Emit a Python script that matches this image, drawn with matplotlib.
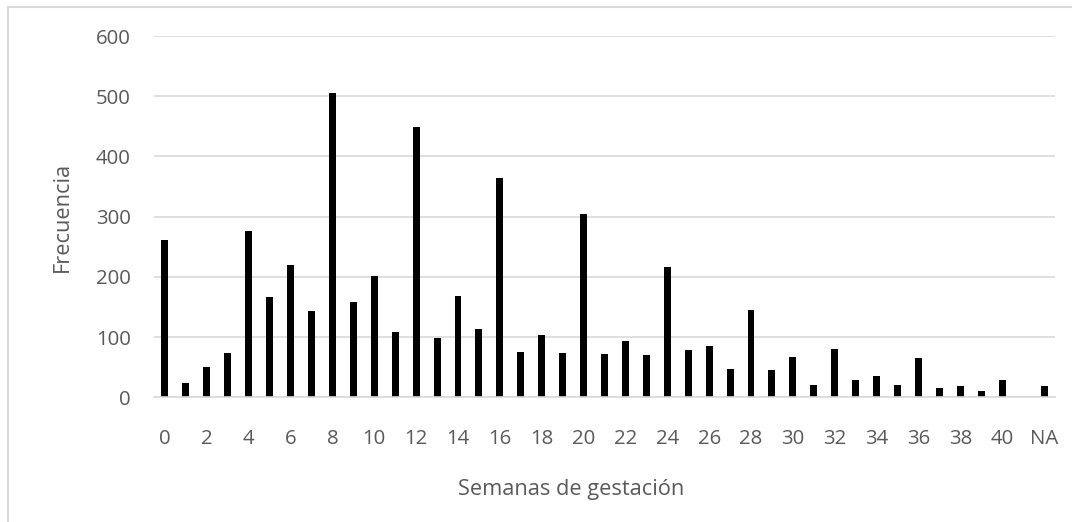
import matplotlib.pyplot as plt
from matplotlib.lines import Line2D

# Semanas de gestacion (0..41, NA) y frecuencia
semanas = [str(i) for i in range(42)] + ['NA']
frecuencia = [261, 23, 50, 74, 276, 167, 220, 143, 505, 158,
              201, 108, 449, 98, 168, 114, 364, 76, 103, 74,
              304, 72, 93, 70, 217, 79, 85, 47, 145, 45,
              67, 21, 80, 28, 35, 20, 65, 15, 19, 11,
              29, 0, 19]
tick_labels = [s if (i % 2 == 0) else '' for i, s in enumerate(semanas)]

plt.rcParams['font.family'] = ['Open Sans', 'DejaVu Sans']
txt = '#595959'
grid = '#d9d9d9'

fig = plt.figure(figsize=(10.72, 5.22), dpi=100)
ax = fig.add_axes([0.1441, 0.2389, 0.8396, 0.6921])

x = list(range(len(semanas)))
ax.bar(x, frecuencia, width=0.33, color='black', zorder=3)

ax.set_xlim(-0.5, len(semanas) - 0.5)
ax.set_ylim(0, 600)
ax.set_yticks(range(0, 601, 100))
ax.set_xticks(x)
ax.set_xticklabels(tick_labels)
ax.tick_params(axis='both', length=0, labelsize=14.7, colors=txt)
ax.tick_params(axis='y', pad=17)
ax.tick_params(axis='x', pad=23)
ax.yaxis.grid(True, color=grid, linewidth=1.2, zorder=0)

for side in ['top', 'right', 'left']:
    ax.spines[side].set_visible(False)
ax.spines['bottom'].set_color(grid)
ax.spines['bottom'].set_linewidth(1.2)
ax.spines['bottom'].set_zorder(4)

ax.set_ylabel('Frecuencia', fontsize=15.7, color=txt, va='center')
ax.set_xlabel('Semanas de gestación', fontsize=15.7, color=txt, va='center')
ax.yaxis.set_label_coords((62 - 154.5) / 900, 0.5)
ax.xaxis.set_label_coords((571 - 154.5) / 900, (397.3 - 490) / 361.3)

# chart border (only left and top visible in picture)
fx0, fy0 = 8 / 1072, 1 - 7 / 522
fig.add_artist(Line2D([fx0, fx0], [0, fy0], color=grid, linewidth=1.5, transform=fig.transFigure))
fig.add_artist(Line2D([fx0, 1], [fy0, fy0], color=grid, linewidth=1.5, transform=fig.transFigure))

fig.savefig('out.png', dpi=100)
